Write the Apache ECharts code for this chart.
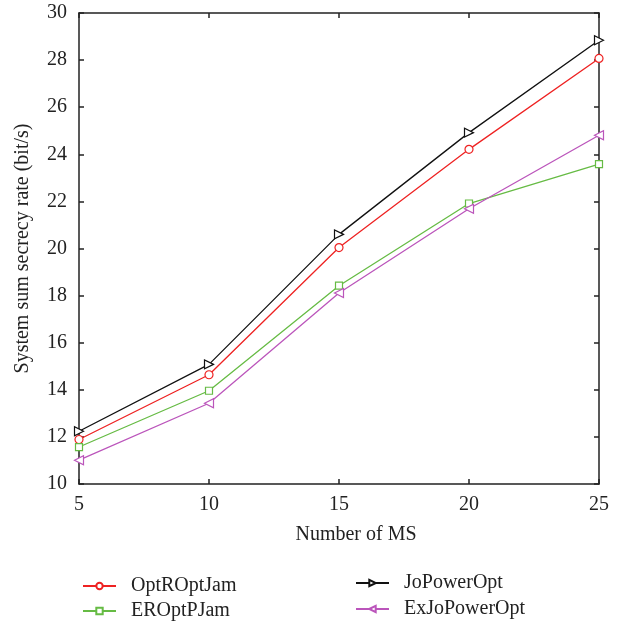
<!DOCTYPE html>
<html>
<head>
<meta charset="utf-8">
<script src="https://cdn.jsdelivr.net/npm/echarts@6/dist/echarts.min.js"></script>
<style>
  html, body { margin: 0; padding: 0; background: #fff; }
  #chart { width: 622px; height: 627px; }
</style>
</head>
<body>
<div id="chart"></div>
<script>
// Number of mobile stations on the x axis
const msCounts = [5, 10, 15, 20, 25];
// System sum secrecy rate (bit/s) for each scheme
const optROptJam = [11.89, 14.64, 20.04, 24.21, 28.07];
const erOptPJam = [11.57, 13.96, 18.42, 21.91, 23.58];
const joPowerOpt = [12.24, 15.08, 20.60, 24.92, 28.84];
const exJoPowerOpt = [11.01, 13.43, 18.11, 21.69, 24.81];
const yTicks = [10, 12, 14, 16, 18, 20, 22, 24, 26, 28, 30];

const FONT = '"Liberation Serif", "DejaVu Serif", serif';
const FS = 20;
const pairs = (ys) => msCounts.map((x, i) => [x, ys[i]]);

const chart = echarts.init(document.getElementById('chart'));

function series(name, data, color, symbol, size, rotate) {
  return {
    name, type: 'line', data: pairs(data),
    xAxisIndex: 0, yAxisIndex: 0,
    symbol, symbolSize: size, symbolRotate: rotate || 0,
    showAllSymbol: true,
    lineStyle: { color, width: 1.3 },
    itemStyle: { color: '#fff', borderColor: color, borderWidth: 1.2 },
    animation: false
  };
}

const axisLine = { show: true, lineStyle: { color: '#222', width: 1.5 } };
const tick = { show: true, inside: true, length: 5, lineStyle: { color: '#222', width: 1.5 } };

chart.setOption({
  backgroundColor: '#fff',
  animation: false,
  grid: { left: 79, right: 23, top: 13, bottom: 143, containLabel: false },
  xAxis: [
    {
      type: 'value', min: 5, max: 25, interval: 5,
      axisLine, splitLine: { show: false }, axisTick: tick,
      axisLabel: { color: '#222', fontFamily: FONT, fontSize: FS, margin: 11 },
      name: 'Number of MS', nameLocation: 'middle', nameGap: 41,
      nameTextStyle: { color: '#222', fontFamily: FONT, fontSize: FS, padding: [0, 0, 0, 34] }
    },
    {
      type: 'value', min: 5, max: 25, interval: 5, position: 'top',
      axisLine, splitLine: { show: false }, axisTick: tick,
      axisLabel: { show: false }
    }
  ],
  yAxis: [
    {
      type: 'value', min: 10, max: 30, interval: 2,
      axisLine, splitLine: { show: false }, axisTick: tick,
      axisLabel: { color: '#222', fontFamily: FONT, fontSize: FS, margin: 12,
        formatter: (v) => (yTicks.includes(v) ? String(v) : '') },
      name: 'System sum secrecy rate (bit/s)', nameLocation: 'middle', nameGap: 46,
      nameTextStyle: { color: '#222', fontFamily: FONT, fontSize: FS }
    },
    {
      type: 'value', min: 10, max: 30, interval: 2, position: 'right',
      axisLine, splitLine: { show: false }, axisTick: tick,
      axisLabel: { show: false }
    }
  ],
  legend: [
    {
      orient: 'vertical', left: 82, top: 576, padding: 0,
      itemWidth: 33, itemHeight: 8, itemGap: 5,
      data: ['OptROptJam', 'EROptPJam'],
      textStyle: { color: '#222', fontFamily: FONT, fontSize: FS, padding: [0, 0, 0, 10] }
    },
    {
      orient: 'vertical', left: 355, top: 573, padding: 0,
      itemWidth: 33, itemHeight: 8, itemGap: 6,
      data: ['JoPowerOpt', 'ExJoPowerOpt'],
      textStyle: { color: '#222', fontFamily: FONT, fontSize: FS, padding: [0, 0, 0, 10] }
    }
  ],
  series: [
    series('OptROptJam', optROptJam, '#ee2222', 'circle', 8),
    series('EROptPJam', erOptPJam, '#66bb44', 'rect', 7),
    series('JoPowerOpt', joPowerOpt, '#111111', 'triangle', 9, -90),
    series('ExJoPowerOpt', exJoPowerOpt, '#bb55bb', 'triangle', 9, 90)
  ]
});
</script>
</body>
</html>
